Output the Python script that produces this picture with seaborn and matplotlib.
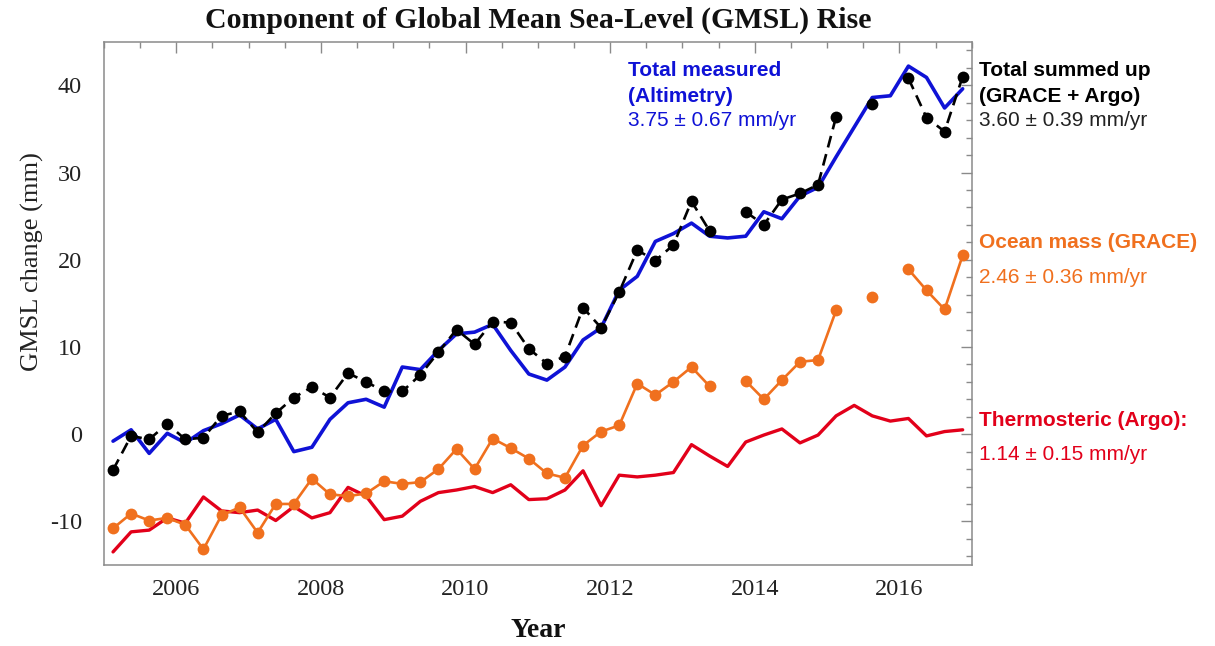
import numpy as np
import pandas as pd
import matplotlib
matplotlib.use("Agg")
import matplotlib.pyplot as plt
import seaborn as sns

# ---------------- data ----------------
years = [2005.125, 2005.375, 2005.625, 2005.875, 2006.125, 2006.375, 2006.625, 2006.875,
         2007.125, 2007.375, 2007.625, 2007.875, 2008.125, 2008.375, 2008.625, 2008.875,
         2009.125, 2009.375, 2009.625, 2009.875, 2010.125, 2010.375, 2010.625, 2010.875,
         2011.125, 2011.375, 2011.625, 2011.875, 2012.125, 2012.375, 2012.625, 2012.875,
         2013.125, 2013.375, 2013.625, 2013.875, 2014.125, 2014.375, 2014.625, 2014.875,
         2015.125, 2015.375, 2015.625, 2015.875, 2016.125, 2016.375, 2016.625, 2016.875]

altimetry = [-0.8, 0.5, -2.2, 0.1, -1.0, 0.4, 1.2, 2.2, 0.6, 1.7, -2.0, -1.5,
             1.7, 3.6, 4.0, 3.1, 7.7, 7.4, 9.6, 11.5, 11.7, 12.6, 9.6, 6.9,
             6.2, 7.7, 10.8, 12.2, 16.5, 18.1, 22.1, 23.0, 24.2, 22.7, 22.5, 22.7,
             25.5, 24.7, 27.3, 28.3, 31.8, 35.2, 38.6, 38.8, 42.2, 40.9, 37.4, 39.6]

summed = [-4.1, -0.2, -0.6, 1.2, -0.6, -0.4, 2.1, 2.6, 0.2, 2.4, 4.2, 5.4,
          4.2, 7.0, 6.0, 4.9, 4.9, 6.8, 9.4, 12.0, 10.3, 12.9, 12.8, 9.8,
          8.1, 8.9, 14.5, 12.2, 16.3, 21.1, 19.9, 21.7, 26.7, 23.3, np.nan, 25.5,
          24.0, 26.9, 27.6, 28.6, 36.4, np.nan, 37.9, np.nan, 40.8, 36.3, 34.7, 41.0]

ocean_mass = [-10.8, -9.1, -9.9, -9.6, -10.4, -13.2, -9.3, -8.4, -11.3, -8.0, -8.0, -5.1,
              -6.9, -7.1, -6.8, -5.4, -5.7, -5.5, -4.0, -1.7, -4.0, -0.5, -1.6, -2.8,
              -4.5, -5.0, -1.3, 0.3, 1.0, 5.8, 4.5, 6.0, 7.7, 5.5, np.nan, 6.1,
              4.0, 6.2, 8.3, 8.5, 14.2, np.nan, 15.7, np.nan, 18.9, 16.5, 14.3, 20.5]

thermosteric = [-13.5, -11.2, -11.0, -9.6, -10.2, -7.2, -8.8, -9.0, -8.7, -9.9, -8.3, -9.6,
                -9.0, -6.1, -7.1, -9.8, -9.4, -7.7, -6.7, -6.4, -6.0, -6.7, -5.8, -7.5,
                -7.4, -6.4, -4.2, -8.2, -4.7, -4.9, -4.7, -4.4, -1.2, -2.5, -3.7, -0.9,
                -0.1, 0.6, -1.0, -0.1, 2.1, 3.3, 2.1, 1.5, 1.8, -0.2, 0.3, 0.5]

x_ticks = [2006, 2008, 2010, 2012, 2014, 2016]
y_ticks = [-10, 0, 10, 20, 30, 40]

BLUE = "#0f12d6"
RED = "#e2001a"
ORANGE = "#f0701e"
BLACK = "#000000"


def segmented(x, y):
    """Split a series into contiguous runs so that gaps (NaN) break the line."""
    df = pd.DataFrame({"year": x, "value": y})
    df["seg"] = df["value"].isna().cumsum()
    return df.dropna()


sns.set_style("white")
plt.rcParams["font.family"] = ["Liberation Serif", "DejaVu Serif"]
plt.rcParams["axes.unicode_minus"] = False

W, H = 1215, 646
fig = plt.figure(figsize=(W / 100, H / 100), dpi=100)
L, R, T, B = 104, 971.7, 41.7, 565
ax = fig.add_axes([L / W, 1 - B / H, (R - L) / W, (B - T) / H])

# thermosteric (red)
sns.lineplot(data=pd.DataFrame({"year": years, "value": thermosteric}), x="year", y="value",
             ax=ax, color=RED, linewidth=2.4, estimator=None, sort=False, zorder=2)
# ocean mass (orange)
sns.lineplot(data=segmented(years, ocean_mass), x="year", y="value", units="seg",
             estimator=None, sort=False, ax=ax, color=ORANGE, linewidth=1.9,
             marker="o", markersize=8.5, markeredgewidth=0, zorder=3)
# altimetry (blue)
sns.lineplot(data=pd.DataFrame({"year": years, "value": altimetry}), x="year", y="value",
             ax=ax, color=BLUE, linewidth=2.6, estimator=None, sort=False, zorder=4)
# summed (black dashed)
sns.lineplot(data=segmented(years, summed), x="year", y="value", units="seg",
             estimator=None, sort=False, ax=ax, color=BLACK, linewidth=1.9,
             linestyle=(0, (4.5, 2.6)), marker="o", markersize=8.5,
             markeredgewidth=0, zorder=5)

ax.set_xlim(2005, 2017)
ax.set_ylim(-15, 45)
ax.set_xticks(x_ticks)
ax.set_yticks(y_ticks)
ax.set_xticks(np.arange(2005, 2017.01, 0.5), minor=True)
ax.set_yticks(np.arange(-14, 45, 2), minor=True)
ax.tick_params(which="both", direction="in", top=True, right=True, colors="#8a8a8a",
               labelcolor="#222222", labelsize=17.5, width=1,
               labeltop=False, labelright=False)
ax.tick_params(which="major", length=8)
ax.tick_params(which="minor", length=4.5)
ax.tick_params(axis="x", pad=10)
ax.tick_params(axis="y", pad=16)
for s in ax.spines.values():
    s.set_color("#8a8a8a")
    s.set_linewidth(1.1)

ax.set_xlabel("Year", fontsize=20, fontweight="bold", labelpad=13, color="#111111")
ax.set_ylabel("GMSL change (mm)", fontsize=19, color="#222222")
ax.yaxis.set_label_coords((44 - L) / (R - L), (B - 262) / (B - T))
fig.text(0.5 * (L + R) / W, 1 - 20 / H, "Component of Global Mean Sea-Level (GMSL) Rise",
         ha="center", va="center", fontsize=21.5, fontweight="bold", color="#111111")


def ftxt(x, y, s, color, bold=False):
    fig.text(x / W, 1 - y / H, s, ha="left", va="center", fontsize=15,
             fontweight="bold" if bold else "normal", color=color,
             family=["Liberation Sans", "DejaVu Sans"])


ftxt(628, 70, "Total measured", BLUE, True)
ftxt(628, 96, "(Altimetry)", BLUE, True)
ftxt(628, 121, "3.75 \u00b1 0.67 mm/yr", BLUE)

ftxt(979, 71, "Total summed up", BLACK, True)
ftxt(979, 96, "(GRACE + Argo)", BLACK, True)
ftxt(979, 121, "3.60 \u00b1 0.39 mm/yr", "#222222")

ftxt(979, 242, "Ocean mass (GRACE)", ORANGE, True)
ftxt(979, 277, "2.46 \u00b1 0.36 mm/yr", ORANGE)

ftxt(979, 420, "Thermosteric (Argo):", RED, True)
ftxt(979, 455, "1.14 \u00b1 0.15 mm/yr", RED)

fig.savefig("out.png", dpi=100)
